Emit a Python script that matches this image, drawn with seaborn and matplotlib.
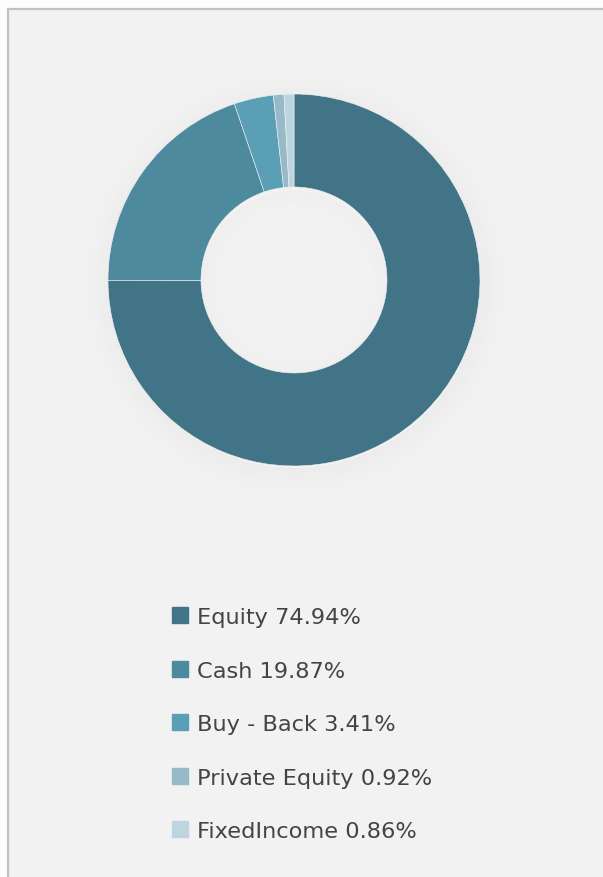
import numpy as np
import seaborn as sns
import matplotlib.pyplot as plt
from matplotlib.patches import Rectangle, Wedge
from matplotlib.lines import Line2D

categories = ['Equity', 'Cash', 'Buy - Back', 'Private Equity', 'FixedIncome']
values = [74.94, 19.87, 3.41, 0.92, 0.86]
colors = ['#417487', '#4e8a9d', '#5b9fb6', '#97b9c8', '#bdd5de']

sns.set_theme(style='white')
plt.rcParams['font.family'] = ['DejaVu Sans']

W, H = 603, 878
dpi = 100
fig = plt.figure(figsize=(W / dpi, H / dpi), dpi=dpi)
fig.patch.set_facecolor('#fdfdfd')

# panel background with grey border on left/top (behind everything)
bg = fig.add_axes([0, 0, 1, 1], zorder=-1)
bg.set_xlim(0, W)
bg.set_ylim(H, 0)
bg.axis('off')
bg.add_patch(Rectangle((7.5, 9.5), W + 60, H + 60, facecolor='#f2f2f2',
                       edgecolor='#c0c0c0', linewidth=1.6, clip_on=False))

# donut axes
cx, cy, R = 294, 281, 186
lim = 1.2
half = lim * R
ax = fig.add_axes([(cx - half) / W, 1 - (cy + half) / H, 2 * half / W, 2 * half / H])

# soft drop shadow around the ring and inside the hole
n = 16
for i in range(n):
    ax.add_patch(Wedge((0.005, -0.02), 1.0 + i * 0.009, 0, 360, width=0.009,
                       facecolor='black', alpha=0.022 * (n - i) / n, linewidth=0))
    ax.add_patch(Wedge((0.0, -0.02), 0.5 - i * 0.006, 0, 360, width=0.006,
                       facecolor='black', alpha=0.014 * (n - i) / n, linewidth=0))

ax.pie(values, colors=colors, startangle=90, counterclock=False, radius=1.0,
       wedgeprops=dict(width=0.5, linewidth=0.4, edgecolor='#f2f2f2'))
ax.set_xlim(-lim, lim)
ax.set_ylim(-lim, lim)
ax.set_aspect('equal')
ax.axis('off')

# legend
handles = [Line2D([0], [0], marker='s', linestyle='none', markersize=12.2,
                  markerfacecolor=c, markeredgecolor=c) for c in colors]
labels = [f'{c} {v:.2f}%' for c, v in zip(categories, values)]
fig.legend(handles, labels, loc='upper left',
           bbox_to_anchor=(163 / W, 1 - 599 / H), frameon=False,
           fontsize=16.2, labelcolor='#444444', handlelength=0.72,
           handletextpad=0.4, labelspacing=1.49, borderaxespad=0)

fig.savefig('out.png', dpi=dpi, facecolor=fig.get_facecolor())
